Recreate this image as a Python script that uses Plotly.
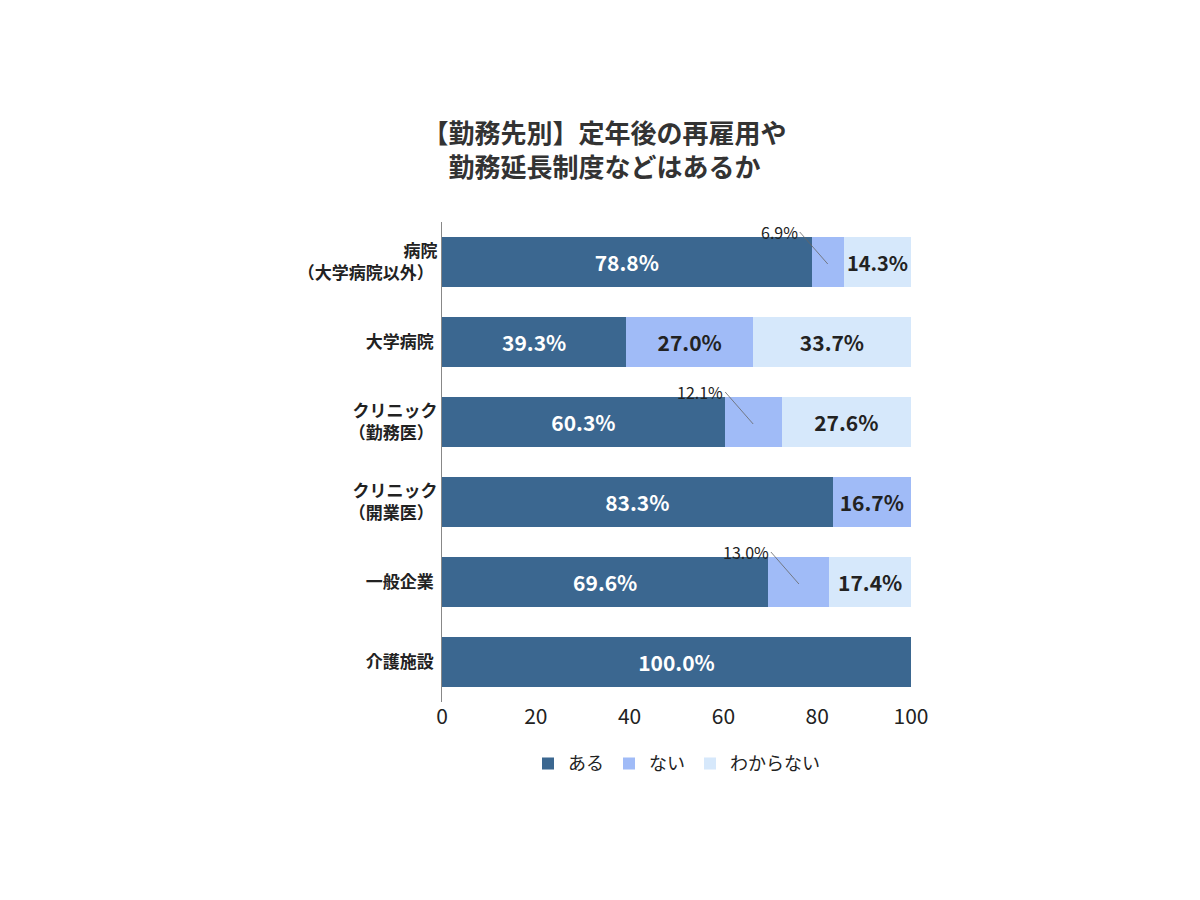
import plotly.graph_objects as go

categories = ["病院<br>（大学病院以外）", "大学病院", "クリニック<br>（勤務医）", "クリニック<br>（開業医）", "一般企業", "介護施設"]
aru = [78.8, 39.3, 60.3, 83.3, 69.6, 100.0]
nai = [6.9, 27.0, 12.1, 16.7, 13.0, 0]
wakaranai = [14.3, 33.7, 27.6, 0, 17.4, 0]

series = [("ある", aru, "#3b6790", "white"),
          ("ない", nai, "#a0bbf7", "#222"),
          ("わからない", wakaranai, "#d6e8fb", "#222")]

fig = go.Figure()
small = []
for k, (name, vals, color, tcol) in enumerate(series):
    texts = []
    for i, v in enumerate(vals):
        if v == 0:
            texts.append("")
        elif name == "ない" and v < 15:
            texts.append("")
            small.append((i, v, sum(s[1][i] for s in series[:k])))
        else:
            texts.append(f"<b>{v:.1f}%</b>")
    fig.add_trace(go.Bar(
        y=categories, x=vals, name=name, orientation="h",
        marker=dict(color=color, line=dict(width=0)),
        text=texts, textposition="inside", insidetextanchor="middle",
        textfont=dict(color=tcol, size=21, family="Noto Sans CJK JP"),
        cliponaxis=False))

for i, v, base in small:
    fig.add_annotation(x=base + v / 2, y=categories[i], yshift=-2,
                       text=f"{v:.1f}%", showarrow=True, arrowhead=0,
                       arrowwidth=0.8, arrowcolor="#666", ax=-28, ay=-32,
                       xanchor="right", font=dict(size=16, color="#222", family="Noto Sans CJK JP"))

fig.update_layout(
    barmode="stack", bargap=0.38,
    width=1200, height=900,
    paper_bgcolor="white", plot_bgcolor="white",
    font=dict(family="Noto Sans CJK JP", color="#222"),
    title=dict(text="<b>【勤務先別】定年後の再雇用や<br>勤務延長制度などはあるか</b>",
               x=0.497, xanchor="center", y=0.85, font=dict(size=26, color="#333")),
    margin=dict(l=434, r=297, t=214, b=206),
    xaxis=dict(range=[0, 100], tickvals=[0, 20, 40, 60, 80, 100], showgrid=False,
               zeroline=False, tickfont=dict(size=21, color="#222"), ticks="",
               tickprefix="<b>", ticksuffix="</b>"),
    yaxis=dict(autorange="reversed", showline=True, linecolor="#888", linewidth=1,
               tickfont=dict(size=17, color="#222"), tickprefix="<b>", ticksuffix="</b> "),
    legend=dict(orientation="h", x=0.5, xanchor="center", y=-0.09, yanchor="top",
                font=dict(size=18), traceorder="normal"),
)
fig.write_html("out.html")
